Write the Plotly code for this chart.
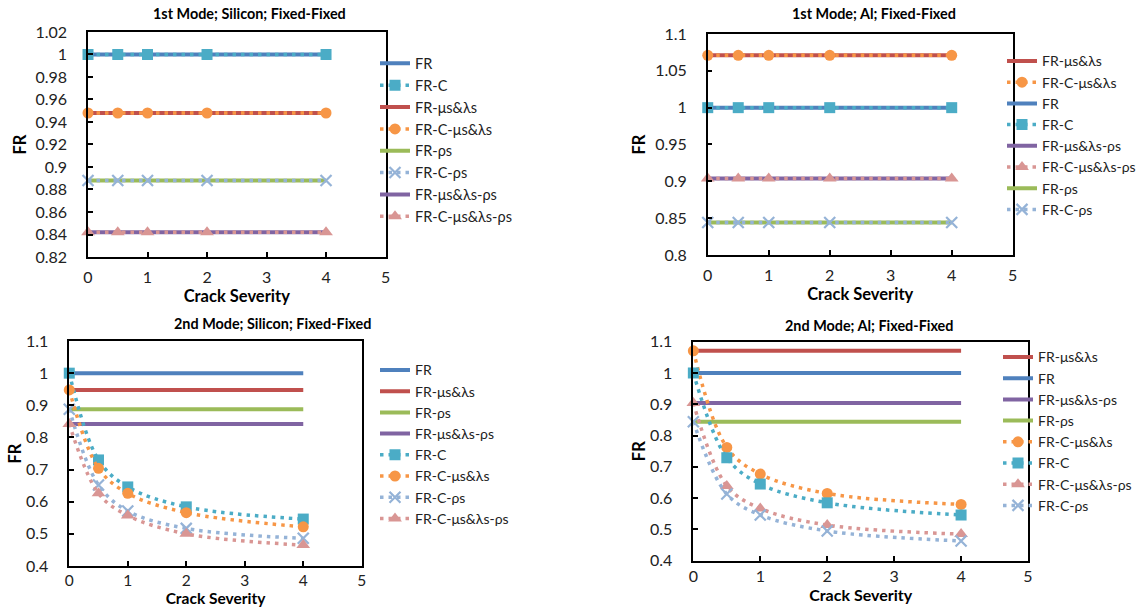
import plotly.graph_objects as go

# ---------------- data ----------------
crack_severity = [0, 0.5, 1, 2, 4]

# 1st Mode; Silicon; Fixed-Fixed
si1_FR           = [1.000, 1.000, 1.000, 1.000, 1.000]
si1_FR_C         = [1.000, 1.000, 1.000, 1.000, 1.000]
si1_FR_mu        = [0.948, 0.948, 0.948, 0.948, 0.948]
si1_FR_C_mu      = [0.948, 0.948, 0.948, 0.948, 0.948]
si1_FR_rho       = [0.888, 0.888, 0.888, 0.888, 0.888]
si1_FR_C_rho     = [0.888, 0.888, 0.888, 0.888, 0.888]
si1_FR_mu_rho    = [0.842, 0.842, 0.842, 0.842, 0.842]
si1_FR_C_mu_rho  = [0.842, 0.842, 0.842, 0.842, 0.842]

# 1st Mode; Al; Fixed-Fixed
al1_FR_mu        = [1.071, 1.071, 1.071, 1.071, 1.071]
al1_FR_C_mu      = [1.071, 1.071, 1.071, 1.071, 1.071]
al1_FR           = [1.000, 1.000, 1.000, 1.000, 1.000]
al1_FR_C         = [1.000, 1.000, 1.000, 1.000, 1.000]
al1_FR_mu_rho    = [0.904, 0.904, 0.904, 0.904, 0.904]
al1_FR_C_mu_rho  = [0.904, 0.904, 0.904, 0.904, 0.904]
al1_FR_rho       = [0.844, 0.844, 0.844, 0.844, 0.844]
al1_FR_C_rho     = [0.844, 0.844, 0.844, 0.844, 0.844]

# 2nd Mode; Silicon; Fixed-Fixed
si2_FR           = [1.000, 1.000, 1.000, 1.000, 1.000]
si2_FR_mu        = [0.948, 0.948, 0.948, 0.948, 0.948]
si2_FR_rho       = [0.888, 0.888, 0.888, 0.888, 0.888]
si2_FR_mu_rho    = [0.842, 0.842, 0.842, 0.842, 0.842]
si2_FR_C         = [1.000, 0.730, 0.646, 0.584, 0.546]
si2_FR_C_mu      = [0.948, 0.704, 0.626, 0.566, 0.522]
si2_FR_C_rho     = [0.888, 0.652, 0.571, 0.517, 0.486]
si2_FR_C_mu_rho  = [0.842, 0.626, 0.557, 0.500, 0.465]

# 2nd Mode; Al; Fixed-Fixed
al2_FR_mu        = [1.071, 1.071, 1.071, 1.071, 1.071]
al2_FR           = [1.000, 1.000, 1.000, 1.000, 1.000]
al2_FR_mu_rho    = [0.904, 0.904, 0.904, 0.904, 0.904]
al2_FR_rho       = [0.844, 0.844, 0.844, 0.844, 0.844]
al2_FR_C_mu      = [1.071, 0.762, 0.677, 0.615, 0.580]
al2_FR_C         = [1.000, 0.729, 0.645, 0.585, 0.546]
al2_FR_C_mu_rho  = [0.904, 0.639, 0.567, 0.514, 0.485]
al2_FR_C_rho     = [0.844, 0.613, 0.546, 0.495, 0.463]

panel_titles = ["1st Mode; Silicon; Fixed-Fixed", "1st Mode; Al; Fixed-Fixed",
                "2nd Mode; Silicon; Fixed-Fixed", "2nd Mode; Al; Fixed-Fixed"]

# ---------------- styles ----------------
FONT = "Lato"
STYLE = {
    "FR":             dict(color="#4F81BD", symbol=None),
    "FR-C":           dict(color="#4BACC6", symbol="square", size=11),
    "FR-μs&λs":       dict(color="#C0504D", symbol=None),
    "FR-C-μs&λs":     dict(color="#F79646", symbol="circle", size=11),
    "FR-ρs":          dict(color="#9BBB59", symbol=None),
    "FR-C-ρs":        dict(color="#95B3D7", symbol="x-thin", size=11),
    "FR-μs&λs-ρs":    dict(color="#8064A2", symbol=None),
    "FR-C-μs&λs-ρs":  dict(color="#D99694", symbol="triangle-up", size=12),
}

panels = [
    dict(series=[("FR", si1_FR), ("FR-C", si1_FR_C), ("FR-μs&λs", si1_FR_mu),
                 ("FR-C-μs&λs", si1_FR_C_mu), ("FR-ρs", si1_FR_rho), ("FR-C-ρs", si1_FR_C_rho),
                 ("FR-μs&λs-ρs", si1_FR_mu_rho), ("FR-C-μs&λs-ρs", si1_FR_C_mu_rho)],
         xd=[0.0770, 0.3373], yd=[0.5773, 0.9474], yr=[0.82, 1.02], dt=0.02,
         title_xy=(249, 14), leg_xy=(375, 47.4), leg_font=14.5, spline=False,
         ystand=5, xtick_so=5, xtitle_so=0, xfont=16.5, xtickfont=16),
    dict(series=[("FR-μs&λs", al1_FR_mu), ("FR-C-μs&λs", al1_FR_C_mu), ("FR", al1_FR),
                 ("FR-C", al1_FR_C), ("FR-μs&λs-ρs", al1_FR_mu_rho), ("FR-C-μs&λs-ρs", al1_FR_C_mu_rho),
                 ("FR-ρs", al1_FR_rho), ("FR-C-ρs", al1_FR_C_rho)],
         xd=[0.6192, 0.8860], yd=[0.5806, 0.9441], yr=[0.8, 1.1], dt=0.05,
         title_xy=(874, 14), leg_xy=(1002, 45.4), leg_font=14, spline=False,
         ystand=5, xtick_so=5, xtitle_so=0, xfont=16.5, xtickfont=16),
    dict(series=[("FR", si2_FR), ("FR-μs&λs", si2_FR_mu), ("FR-ρs", si2_FR_rho),
                 ("FR-μs&λs-ρs", si2_FR_mu_rho), ("FR-C", si2_FR_C), ("FR-C-μs&λs", si2_FR_C_mu),
                 ("FR-C-ρs", si2_FR_C_rho), ("FR-C-μs&λs-ρs", si2_FR_C_mu_rho)],
         xd=[0.0606, 0.3165], yd=[0.0691, 0.4391], yr=[0.4, 1.1], dt=0.1,
         title_xy=(272, 323), leg_xy=(375, 354.4), leg_font=14, spline=True,
         ystand=0.5, xtick_so=0, xtitle_so=0, xfont=15.5, xtickfont=15.5),
    dict(series=[("FR-μs&λs", al2_FR_mu), ("FR", al2_FR), ("FR-μs&λs-ρs", al2_FR_mu_rho),
                 ("FR-ρs", al2_FR_rho), ("FR-C-μs&λs", al2_FR_C_mu), ("FR-C", al2_FR_C),
                 ("FR-C-μs&λs-ρs", al2_FR_C_mu_rho), ("FR-C-ρs", al2_FR_C_rho)],
         xd=[0.6066, 0.8994], yd=[0.0778, 0.4380], yr=[0.4, 1.1], dt=0.1,
         title_xy=(869, 325), leg_xy=(998, 341.4), leg_font=14, spline=True,
         ystand=0.5, xtick_so=0, xtitle_so=0, xfont=16, xtickfont=16),
]

W, H = 1143, 608
fig = go.Figure()
annotations = []
layout_extra = {}

for i, p in enumerate(panels):
    n = i + 1
    xa = "x" if n == 1 else f"x{n}"
    ya = "y" if n == 1 else f"y{n}"
    leg = "legend" if n == 1 else f"legend{n}"
    for name, vals in p["series"]:
        st = STYLE[name]
        if st["symbol"] is None:
            fig.add_trace(go.Scatter(
                x=crack_severity, y=vals, name=name, mode="lines",
                line=dict(color=st["color"], width=4),
                xaxis=xa, yaxis=ya, legend=leg, cliponaxis=False))
        else:
            marker = dict(symbol=st["symbol"], size=st["size"], color=st["color"])
            if st["symbol"] == "x-thin":
                marker.update(line=dict(color=st["color"], width=2.2))
            fig.add_trace(go.Scatter(
                x=crack_severity, y=vals, name=name, mode="lines+markers",
                line=dict(color=st["color"], width=3.5, dash="3.5px,5px",
                          shape="spline" if p["spline"] else "linear", smoothing=1),
                marker=marker,
                xaxis=xa, yaxis=ya, legend=leg, cliponaxis=False))

    axis_common = dict(showline=True, linecolor="black", linewidth=1.5, mirror=True,
                       ticks="inside", ticklen=5, tickwidth=1.5, tickcolor="black",
                       showgrid=False, zeroline=False)
    layout_extra[f"xaxis{'' if n == 1 else n}"] = dict(
        axis_common, domain=p["xd"], anchor=ya, range=[0, 5], dtick=1, tick0=0,
        ticklabelstandoff=p["xtick_so"],
        tickfont=dict(family=FONT, size=p["xtickfont"], color="#222222"),
        title=dict(text="<b>Crack Severity</b>", font=dict(family=FONT, size=p["xfont"], color="black"),
                   standoff=p["xtitle_so"]))
    layout_extra[f"yaxis{'' if n == 1 else n}"] = dict(
        axis_common, domain=p["yd"], anchor=xa, range=p["yr"], dtick=p["dt"], tick0=p["yr"][0],
        ticklabelstandoff=16,
        tickfont=dict(family=FONT, size=16, color="#222222"),
        title=dict(text="<b>FR</b>", font=dict(family=FONT, size=16.5, color="black"),
                   standoff=p["ystand"]))
    layout_extra[leg] = dict(
        x=p["leg_xy"][0] / W, y=1 - p["leg_xy"][1] / H, xanchor="left", yanchor="top",
        xref="paper", yref="paper",
        bgcolor="rgba(0,0,0,0)", borderwidth=0,
        font=dict(family=FONT, size=p["leg_font"], color="#222222"),
        traceorder="normal", itemwidth=30)
    annotations.append(dict(
        text=f"<b>{panel_titles[i]}</b>", x=p["title_xy"][0] / W, y=1 - p["title_xy"][1] / H,
        xref="paper", yref="paper", xanchor="center", yanchor="middle", showarrow=False,
        font=dict(family=FONT, size=14.4, color="black")))

fig.update_layout(
    width=W, height=H, margin=dict(l=0, r=0, t=0, b=0, autoexpand=False),
    paper_bgcolor="white", plot_bgcolor="white",
    font=dict(family=FONT), showlegend=True,
    annotations=annotations, **layout_extra)

fig.write_html("out.html")
